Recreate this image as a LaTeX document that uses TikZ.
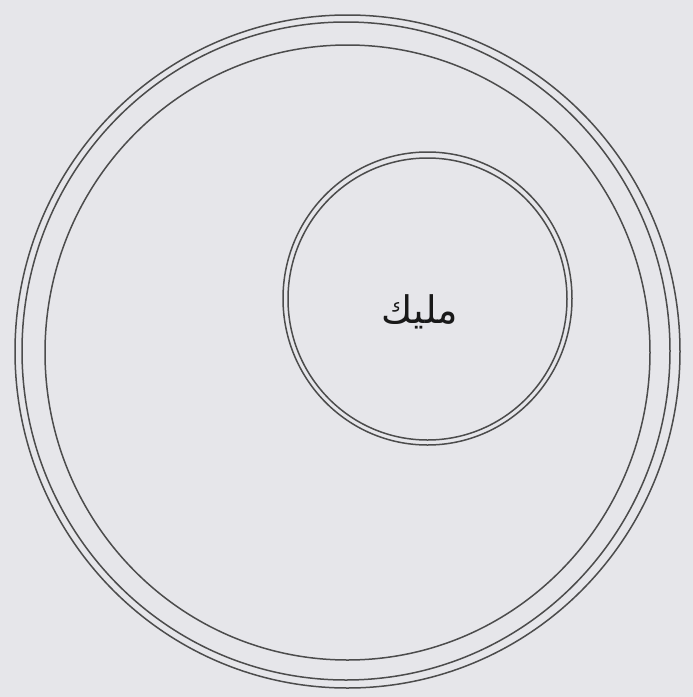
\documentclass[tikz,border=0pt]{standalone}
\usepackage{fontspec}
\newfontfamily\arabicfont[Script=Arabic]{DejaVu Sans}
\TeXXeTstate=1
\definecolor{paper}{HTML}{E6E6EA}
\begin{document}
\begin{tikzpicture}[x=1pt,y=-1pt,
  ring/.style={draw=black!70, line width=1.5pt}]
\fill[paper] (0,0) rectangle (693,697);
\useasboundingbox (0,0) rectangle (693,697);
% outer rings
\draw[ring] (347.5,351.5) ellipse [x radius=332.5, y radius=336.5];
\draw[ring] (346,351) ellipse [x radius=324, y radius=329];
\draw[ring] (347.5,352.5) ellipse [x radius=302.5, y radius=307.5];
% inner circle
\draw[ring] (427.5,298.5) ellipse [x radius=144.5, y radius=146.5];
\draw[ring] (427.5,299) ellipse [x radius=139.5, y radius=141];
\node[text=black!90, font=\arabicfont\fontsize{38}{44}\selectfont] (label) at (420,312) {\beginR مليك\endR};
\end{tikzpicture}
\end{document}
